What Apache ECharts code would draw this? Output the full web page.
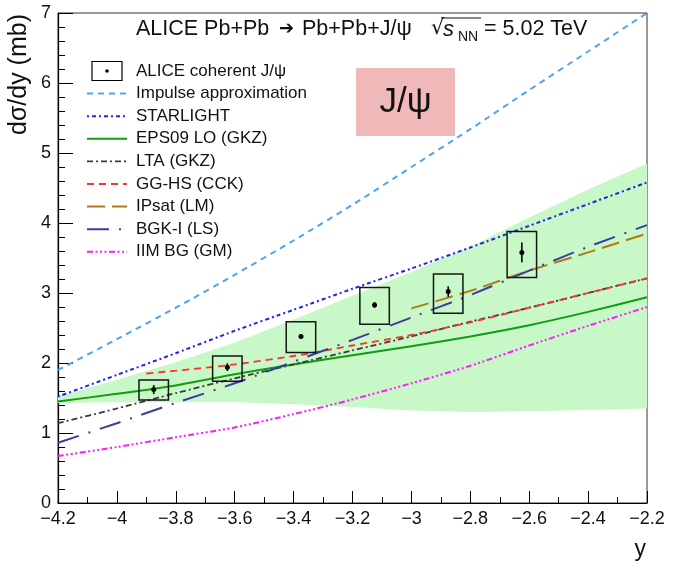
<!DOCTYPE html>
<html>
<head>
<meta charset="utf-8">
<script src="https://cdn.jsdelivr.net/npm/echarts@6/dist/echarts.min.js"></script>
<style>
  html, body { margin: 0; padding: 0; background: #fff; }
  #chart { width: 673px; height: 570px; }
</style>
</head>
<body>
<div id="chart"></div>
<script>
// ---- Model curves: dσ/dy (mb) versus rapidity y ----
const rapidity      = [-4.2, -4.0, -3.8, -3.6, -3.4, -3.2, -3.0, -2.8, -2.6, -2.4, -2.2];
const impulseApprox = [1.90, 2.34, 2.79, 3.26, 3.75, 4.26, 4.80, 5.34, 5.90, 6.45, 7.00];
const starlight     = [1.52, 1.83, 2.14, 2.46, 2.76, 3.06, 3.35, 3.65, 3.96, 4.27, 4.58];
const eps09LO       = [1.45, 1.56, 1.68, 1.84, 1.98, 2.11, 2.24, 2.38, 2.54, 2.73, 2.94];
const eps09Upper    = [1.52, 1.76, 2.01, 2.29, 2.62, 2.96, 3.30, 3.66, 4.08, 4.48, 4.85];
const eps09Lower    = [1.43, 1.44, 1.44, 1.44, 1.41, 1.37, 1.32, 1.30, 1.31, 1.33, 1.35];
const ltaGKZ        = [1.14, 1.35, 1.57, 1.78, 1.98, 2.18, 2.38, 2.59, 2.79, 3.00, 3.21];
const bgkLS         = [0.86, 1.14, 1.43, 1.71, 2.02, 2.33, 2.65, 2.97, 3.32, 3.66, 3.97];
const iimGM         = [0.67, 0.80, 0.94, 1.08, 1.27, 1.48, 1.71, 1.96, 2.25, 2.53, 2.80];

const ggHsRapidity  = [-3.9, -3.8, -3.6, -3.4, -3.2, -3.0, -2.8, -2.6, -2.4, -2.2];
const ggHsCCK       = [1.85, 1.89, 1.98, 2.10, 2.25, 2.40, 2.58, 2.79, 3.00, 3.21];

const ipsatRapidity = [-3.0, -2.8, -2.6, -2.4, -2.2];
const ipsatLM       = [2.78, 3.03, 3.32, 3.58, 3.85];

// ---- ALICE coherent J/psi measurement ----
const aliceRapidity = [-3.875, -3.625, -3.375, -3.125, -2.875, -2.625];
const aliceXsec     = [1.62, 1.94, 2.38, 2.83, 3.02, 3.58];
const aliceStat     = [0.065, 0.055, 0.03, 0.04, 0.075, 0.14];
const aliceSysHigh  = [1.757, 2.10, 2.59, 3.08, 3.27, 3.88];
const aliceSysLow   = [1.47, 1.74, 2.15, 2.555, 2.71, 3.22];

const legendNames = [
  'ALICE coherent J/\u03c8', 'Impulse approximation', 'STARLIGHT', 'EPS09 LO (GKZ)',
  'LTA (GKZ)', 'GG-HS (CCK)', 'IPsat (LM)', 'BGK-I (LS)', 'IIM BG (GM)'
];

const FONT = '"Liberation Sans", Arial, Helvetica, sans-serif';
const BOX_HALF_WIDTH = 0.05;   // half width of the systematic box, in units of y

const pairs = (xs, ys) => xs.map((x, i) => [x, ys[i]]);

// line appearance per model
const models = [
  { name: legendNames[1], data: pairs(rapidity, impulseApprox), color: '#4ea3f2', width: 2,   dash: [6, 5] },
  { name: legendNames[2], data: pairs(rapidity, starlight),     color: '#2323e6', width: 2,   dash: [2, 3, 4, 3] },
  { name: legendNames[3], data: pairs(rapidity, eps09LO),       color: '#119c11', width: 2,   dash: 'solid' },
  { name: legendNames[4], data: pairs(rapidity, ltaGKZ),        color: '#3a3a3a', width: 1.8, dash: [6, 3, 2, 3] },
  { name: legendNames[5], data: pairs(ggHsRapidity, ggHsCCK),   color: '#ff3030', width: 1.8, dash: [7, 5] },
  { name: legendNames[6], data: pairs(ipsatRapidity, ipsatLM),  color: '#b07a12', width: 2,   dash: [18, 7] },
  { name: legendNames[7], data: pairs(rapidity, bgkLS),         color: '#3c3ca0', width: 2,   dash: [22, 10, 2, 10] },
  { name: legendNames[8], data: pairs(rapidity, iimGM),         color: '#ff1aff', width: 2,   dash: [6, 2.5, 2, 2.5, 2, 2.5, 2, 2.5] }
];

function tickText(v) {
  const r = Math.round(v * 10) / 10;
  return (r < 0 ? '\u2212' : '') + String(Math.abs(r));
}

const chart = echarts.init(document.getElementById('chart'), null, { renderer: 'canvas' });

const series = [];

// EPS09 uncertainty band
series.push({
  type: 'custom',
  silent: true,
  z: 1,
  data: rapidity.map((x, i) => [x, eps09Lower[i], eps09Upper[i]]),
  encode: { x: 0, y: [1, 2] },
  renderItem(params, api) {
    if (params.dataIndex !== 0) return { type: 'group', children: [] };
    const pts = [];
    rapidity.forEach((x, i) => pts.push(api.coord([x, eps09Upper[i]])));
    for (let i = rapidity.length - 1; i >= 0; i--) pts.push(api.coord([rapidity[i], eps09Lower[i]]));
    return { type: 'polygon', shape: { points: pts }, style: { fill: '#c8f7c8', stroke: 'none' } };
  }
});

models.forEach((m, k) => {
  series.push({
    type: 'line',
    name: m.name,
    data: m.data,
    symbol: 'none',
    showSymbol: false,
    smooth: 0.25,
    silent: true,
    z: 3 + k,
    lineStyle: { color: m.color, width: m.width, type: m.dash }
  });
});

// data points with statistical bars and systematic boxes
series.push({
  type: 'custom',
  name: legendNames[0],
  z: 20,
  silent: true,
  data: aliceRapidity.map((x, i) => [x, aliceXsec[i], aliceStat[i], aliceSysHigh[i], aliceSysLow[i]]),
  encode: { x: 0, y: 1 },
  renderItem(params, api) {
    const x = api.value(0), y = api.value(1), st = api.value(2);
    const tl = api.coord([x - BOX_HALF_WIDTH, api.value(3)]);
    const br = api.coord([x + BOX_HALF_WIDTH, api.value(4)]);
    const c = api.coord([x, y]);
    const s1 = api.coord([x, y + st]);
    const s2 = api.coord([x, y - st]);
    return {
      type: 'group',
      children: [
        { type: 'rect', shape: { x: tl[0], y: tl[1], width: br[0] - tl[0], height: br[1] - tl[1] },
          style: { fill: 'none', stroke: '#151515', lineWidth: 1.5 } },
        { type: 'line', shape: { x1: s1[0], y1: s1[1], x2: s2[0], y2: s2[1] },
          style: { stroke: '#000', lineWidth: 1.6 } },
        { type: 'circle', shape: { cx: c[0], cy: c[1], r: 2.5 }, style: { fill: '#000' } }
      ]
    };
  }
});

// legend drawn as graphic elements
const legendGraphics = [];
const legendTop = 71, legendStep = 22.6, sampleX1 = 87, sampleX2 = 127, textX = 136;
legendNames.forEach((name, i) => {
  const cy = legendTop + i * legendStep;
  if (i === 0) {
    legendGraphics.push({ type: 'rect', shape: { x: 92, y: cy - 9.5, width: 30, height: 19 },
      style: { fill: 'none', stroke: '#000', lineWidth: 1.2 } });
    legendGraphics.push({ type: 'circle', shape: { cx: 107, cy: cy, r: 1.8 }, style: { fill: '#000' } });
  } else {
    const m = models[i - 1];
    legendGraphics.push({ type: 'line', shape: { x1: sampleX1, y1: cy, x2: sampleX2, y2: cy },
      style: { stroke: m.color, lineWidth: m.width, lineDash: m.dash === 'solid' ? null : m.dash } });
  }
  legendGraphics.push({ type: 'text', x: textX, y: cy,
    style: { text: name, font: '17px ' + FONT, fill: '#111', verticalAlign: 'middle', align: 'left' } });
});

const titleY = 29;
const titleFont = '21.5px ' + FONT;
const titleGraphics = [
  { type: 'text', x: 136, y: titleY, style: { text: 'ALICE Pb+Pb', font: titleFont, fill: '#111', verticalAlign: 'middle' } },
  { type: 'text', x: 279, y: titleY, style: { text: '\u2794', font: '18px "DejaVu Sans", sans-serif', fill: '#111', verticalAlign: 'middle' } },
  { type: 'text', x: 302, y: titleY, style: { text: 'Pb+Pb+J/\u03c8', font: titleFont, fill: '#111', verticalAlign: 'middle' } },
  { type: 'text', x: 431, y: titleY, style: { text: '\u221a', font: '21px "DejaVu Sans", sans-serif', fill: '#111', verticalAlign: 'middle' } },
  { type: 'line', shape: { x1: 441, y1: 18, x2: 481, y2: 18 }, style: { stroke: '#111', lineWidth: 1 } },
  { type: 'text', x: 443, y: titleY + 1, style: { text: 's', font: 'italic 22px ' + FONT, fill: '#111', verticalAlign: 'middle' } },
  { type: 'text', x: 458, y: titleY + 8, style: { text: 'NN', font: '14px ' + FONT, fill: '#111', verticalAlign: 'middle' } },
  { type: 'text', x: 484, y: titleY, style: { text: '= 5.02 TeV', font: titleFont, fill: '#111', verticalAlign: 'middle' } }
];

const option = {
  animation: false,
  backgroundColor: '#ffffff',
  grid: {
    left: 58, top: 13, width: 589, height: 490,
    show: true, borderColor: '#333', borderWidth: 1, backgroundColor: 'transparent',
    containLabel: false, outerBoundsMode: 'none'
  },
  xAxis: {
    type: 'value', min: -4.2, max: -2.2, interval: 0.2,
    axisLine: { show: true, onZero: false, lineStyle: { color: '#000', width: 1.2 } },
    axisTick: { show: true, inside: true, length: 12, lineStyle: { color: '#000', width: 1 } },
    minorTick: { show: true, splitNumber: 2, length: 6, lineStyle: { color: '#000', width: 1 } },
    splitLine: { show: false }, minorSplitLine: { show: false },
    axisLabel: { margin: 7, fontSize: 18, color: '#111', fontFamily: FONT,
      showMinLabel: true, showMaxLabel: true, hideOverlap: false, formatter: tickText }
  },
  yAxis: {
    type: 'value', min: 0, max: 7, interval: 1,
    axisLine: { show: true, onZero: false, lineStyle: { color: '#000', width: 1.2 } },
    axisTick: { show: true, inside: true, length: 15, lineStyle: { color: '#000', width: 1 } },
    minorTick: { show: true, splitNumber: 5, length: 7, lineStyle: { color: '#000', width: 1 } },
    splitLine: { show: false }, minorSplitLine: { show: false },
    axisLabel: { margin: 7, fontSize: 18, color: '#111', fontFamily: FONT,
      showMinLabel: true, showMaxLabel: true, formatter: tickText }
  },
  series: series,
  graphic: [
    // J/psi tag
    { type: 'rect', shape: { x: 356, y: 68, width: 99, height: 68 }, style: { fill: '#f0b9b9' }, z: 5 },
    { type: 'text', x: 405.5, y: 102, z: 6, style: { text: 'J/\u03c8', font: '35px ' + FONT, fill: '#111',
      align: 'center', verticalAlign: 'middle' } },
    // axis titles
    { type: 'text', x: 19, y: 14, rotation: Math.PI / 2,
      style: { text: 'd\u03c3/dy (mb)', font: '25px ' + FONT, fill: '#111', align: 'right', verticalAlign: 'middle' } },
    { type: 'text', x: 646, y: 550,
      style: { text: 'y', font: '23px ' + FONT, fill: '#111', align: 'right', verticalAlign: 'middle' } }
  ].concat(titleGraphics, legendGraphics)
};

chart.setOption(option);
</script>
</body>
</html>
